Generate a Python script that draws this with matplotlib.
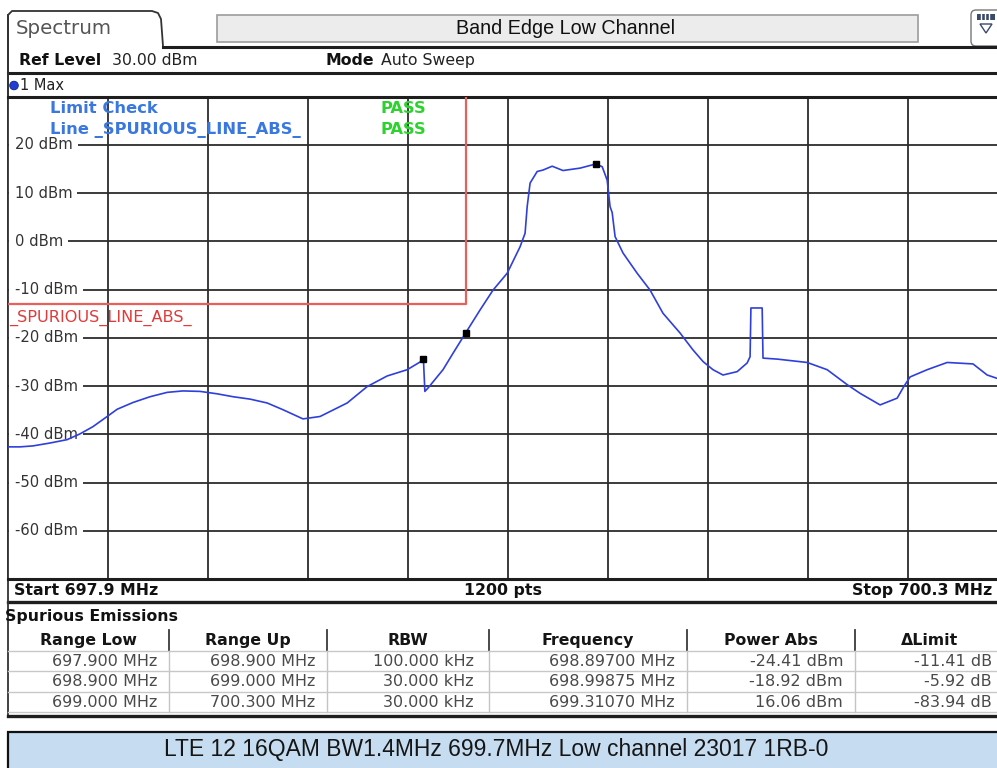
import matplotlib
matplotlib.use('Agg')
import matplotlib.pyplot as plt
from matplotlib.patches import Rectangle, FancyBboxPatch, Circle, Polygon
from matplotlib import font_manager
import matplotlib.transforms as mtransforms

# ---------------- data ----------------
start_mhz = 697.9
stop_mhz = 700.3
ref_level = 30.0
db_per_div = 10
n_div = 10

trace_mhz = [697.900, 697.929, 697.960, 698.001, 698.042, 698.073, 698.104, 698.138,
             698.162, 698.200, 698.241, 698.282, 698.320, 698.361, 698.402, 698.440,
             698.481, 698.522, 698.560, 698.608, 698.649, 698.714, 698.762, 698.810,
             698.858, 698.889, 698.897, 698.9005, 698.908, 698.944, 698.968, 698.99875,
             699.033, 699.064, 699.098, 699.129, 699.141, 699.146, 699.153, 699.170,
             699.184, 699.206, 699.232, 699.273, 699.3107, 699.326, 699.338, 699.345,
             699.350, 699.357, 699.376, 699.410, 699.441, 699.472, 699.513, 699.544,
             699.568, 699.592, 699.616, 699.650, 699.674, 699.681, 699.683, 699.710,
             699.712, 699.746, 699.818, 699.866, 699.914, 699.945, 699.993, 700.034,
             700.050, 700.065, 700.106, 700.154, 700.216, 700.250, 700.274, 700.300]
trace_dbm = [-42.6, -42.6, -42.4, -41.8, -41.1, -39.9, -38.4, -36.3,
             -34.8, -33.4, -32.2, -31.3, -31.0, -31.1, -31.6, -32.2,
             -32.7, -33.5, -34.9, -36.8, -36.3, -33.5, -30.1, -27.9,
             -26.6, -25.0, -24.41, -31.1, -30.4, -26.6, -23.2, -18.92,
             -14.2, -10.1, -6.6, -1.1, 1.7, 7.2, 12.1, 14.5,
             14.8, 15.6, 14.7, 15.2, 16.06, 15.5, 12.7, 7.2,
             6.0, 1.0, -2.4, -6.6, -10.1, -14.9, -19.0, -22.5,
             -24.9, -26.6, -27.7, -27.0, -25.2, -23.9, -13.8, -13.8,
             -24.2, -24.4, -25.1, -26.6, -29.7, -31.5, -33.9, -32.5,
             -30.1, -28.1, -26.6, -25.1, -25.4, -27.7, -28.4, -28.8]

limit_mhz = [697.9, 699.0, 699.0, 700.3]
limit_dbm = [-13.0, -13.0, 100.0, 100.0]

marker_mhz = [698.897, 698.99875, 699.3107]
marker_dbm = [-24.41, -18.92, 16.06]

y_labels = [20, 10, 0, -10, -20, -30, -40, -50, -60]

table_headers = ['Range Low', 'Range Up', 'RBW', 'Frequency', 'Power Abs', '\u0394Limit']
range_low = ['697.900 MHz', '698.900 MHz', '699.000 MHz']
range_up = ['698.900 MHz', '699.000 MHz', '700.300 MHz']
rbw = ['100.000 kHz', '30.000 kHz', '30.000 kHz']
peak_freq = ['698.89700 MHz', '698.99875 MHz', '699.31070 MHz']
power_abs = ['-24.41 dBm', '-18.92 dBm', '16.06 dBm']
delta_limit = ['-11.41 dB', '-5.92 dB', '-83.94 dB']

title = 'Band Edge Low Channel'
caption = 'LTE 12 16QAM BW1.4MHz 699.7MHz Low channel 23017 1RB-0'

# ---------------- figure ----------------
W, H = 997, 768
fig = plt.figure(figsize=(W / 100, H / 100), dpi=100)
fig.patch.set_facecolor('white')
FONT = 'DejaVu Sans'
FS = 11.3  # instrument UI font size

try:
    font_manager.findfont('Liberation Sans Narrow', fallback_to_default=False)
    cap_family, cap_size = 'Liberation Sans Narrow', 19.5
except Exception:
    cap_family, cap_size = 'Liberation Sans', 16.5

ov = fig.add_axes([0, 0, 1, 1], zorder=0)
ov.set_xlim(0, W)
ov.set_ylim(H, 0)
ov.axis('off')

DARK = '#1e1e1e'

# tab "Spectrum"
tab_x = [8, 8, 12, 152, 158, 161, 163]
tab_y = [96, 15, 11, 11, 13, 19, 46]
ov.plot(tab_x, tab_y, color='#333333', lw=1.3, solid_capstyle='butt')
ov.text(16, 28, 'Spectrum', fontsize=14.3, color='#555555', va='center', ha='left', family=FONT)
ov.plot([163, W], [46.5, 46.5], color=DARK, lw=2.2)

# title box
ov.add_patch(Rectangle((217, 15), 918 - 217, 27, facecolor='#ececec', edgecolor='#9c9c9c', lw=1.2))
ov.text(566, 28.5, title, fontsize=14.2, color='#111111', va='center', ha='center',
        family='Liberation Sans')

# icon at top right
ov.add_patch(FancyBboxPatch((971, 10), 40, 36, boxstyle='round,pad=0,rounding_size=5',
                            facecolor='white', edgecolor='#777777', lw=1.0))
ov.add_patch(Rectangle((977, 14), 18, 6, facecolor='#3a4a6a', edgecolor='none'))
for xx in (981, 985, 989):
    ov.plot([xx, xx], [14, 20], color='white', lw=1)
ov.add_patch(Polygon([[980, 24], [992, 24], [986, 33]], closed=True, facecolor='white',
                     edgecolor='#3a4a6a', lw=1.0))

# Ref level row
ov.text(19, 60.5, 'Ref Level', fontsize=FS, fontweight='bold', color='#111111', va='center', family=FONT)
ov.text(112, 60.5, '30.00 dBm', fontsize=FS, color='#222222', va='center', family=FONT)
ov.text(325, 60.5, 'Mode', fontsize=FS, fontweight='bold', color='#111111', va='center', family=FONT)
ov.text(381, 60.5, 'Auto Sweep', fontsize=FS, color='#222222', va='center', family=FONT)
ov.plot([8, W], [72.5, 72.5], color=DARK, lw=2.2)

# trace info row
ov.add_patch(Circle((14, 85.5), 4.3, facecolor='#1f3fd0', edgecolor='#0f2090', lw=0.6))
ov.text(20, 85.5, '1 Max', fontsize=10.5, color='#222222', va='center', family=FONT)

# start/stop bar
ov.text(14, 590.5, 'Start 697.9 MHz', fontsize=FS, fontweight='bold', color='#111111', va='center', family=FONT)
ov.text(503, 590.5, '1200 pts', fontsize=FS, fontweight='bold', color='#111111', va='center', ha='center', family=FONT)
ov.text(992, 590.5, 'Stop 700.3 MHz', fontsize=FS, fontweight='bold', color='#111111', va='center', ha='right', family=FONT)
ov.plot([8, W], [601.5, 601.5], color=DARK, lw=2.4)

# left frame line
ov.plot([8, 8], [15, 716], color='#333333', lw=1.3)

# spurious emissions table
ov.text(5, 616.5, 'Spurious Emissions', fontsize=FS, fontweight='bold', color='#111111', va='center', family=FONT)
col_edges = [8, 169, 327, 489, 687, 855, 1005]
hdr_y0, hdr_y1 = 630, 651
row_h = 20.3
for i, h in enumerate(table_headers):
    cx = (col_edges[i] + col_edges[i + 1]) / 2
    ov.text(cx, 640.5, h, fontsize=FS, fontweight='bold', color='#151515', va='center', ha='center', family=FONT)
for xe in col_edges[1:-1]:
    ov.plot([xe, xe], [hdr_y0, hdr_y1], color='#3a3a3a', lw=1.3)
    ov.plot([xe, xe], [hdr_y1, hdr_y1 + 3 * row_h], color='#c4c4c4', lw=1.0)
for r in range(4):
    yy = hdr_y1 + r * row_h
    ov.plot([8, W], [yy, yy], color='#c8c8c8', lw=1.0)
cols = [range_low, range_up, rbw, peak_freq, power_abs, delta_limit]
right_x = [157, 315, 474, 675, 843, 992]
for ci, col in enumerate(cols):
    for r, val in enumerate(col):
        ov.text(right_x[ci], hdr_y1 + (r + 0.5) * row_h + 0.5, val, fontsize=11.5, color='#4a4a4a',
                va='center', ha='right', family=FONT)
ov.plot([8, W], [715.5, 715.5], color=DARK, lw=2.4)

# caption box
ov.add_patch(Rectangle((8, 732), W, 40, facecolor='#c6dcf0', edgecolor='#111111', lw=1.6))
ov.text(496, 749.5, caption, fontsize=cap_size, color='#151515', va='center', ha='center',
        family=cap_family)

# ---------------- spectrum plot ----------------
x0, x1 = 8, 1008  # screenshot is cropped on the right
y_top, y_bot = 96.75, 579
ax = fig.add_axes([x0 / W, 1 - y_bot / H, (x1 - x0) / W, (y_bot - y_top) / H], zorder=2)
ax.set_facecolor('white')
ax.set_xlim(start_mhz, stop_mhz)
ax.set_ylim(ref_level - n_div * db_per_div, ref_level)
span = stop_mhz - start_mhz
ax.set_xticks([start_mhz + k * span / n_div for k in range(1, n_div)])
ax.set_yticks(y_labels)
ax.set_axisbelow(True)
ax.grid(True, color='#2c2c2c', lw=1.3)
ax.tick_params(length=0, labelbottom=False, labelleft=False)
ax.spines['left'].set_color('#333333')
ax.spines['left'].set_linewidth(1.3)
for s in ('top', 'bottom'):
    ax.spines[s].set_color(DARK)
    ax.spines[s].set_linewidth(2.2)
ax.spines['right'].set_visible(False)

blend = mtransforms.blended_transform_factory(ax.transAxes, ax.transData)
for v in y_labels:
    # white gap between the frame and the level label
    ax.add_patch(Rectangle((0.001, v - 0.8), 0.012, 1.6, transform=blend, facecolor='white',
                           edgecolor='none', zorder=1.5))
    ax.annotate(f'{v} dBm', xy=(0, v), xycoords=('axes fraction', 'data'), xytext=(7, 0),
                textcoords='offset pixels', va='center', ha='left', fontsize=10.6, color='#333333',
                family=FONT, zorder=2,
                bbox=dict(boxstyle='square,pad=0.33', facecolor='white', edgecolor='none'))

# legend texts
ax.annotate('Limit Check', xy=(0, 1), xycoords='axes fraction', xytext=(42, -11.5), textcoords='offset pixels',
            va='center', ha='left', fontsize=11.8, fontweight='bold', color='#3a78e0', family=FONT, zorder=6)
ax.annotate('Line _SPURIOUS_LINE_ABS_', xy=(0, 1), xycoords='axes fraction', xytext=(42, -33), textcoords='offset pixels',
            va='center', ha='left', fontsize=11.8, fontweight='bold', color='#3a78e0', family=FONT, zorder=6)
for dy in (-11.5, -33):
    ax.annotate('PASS', xy=(0, 1), xycoords='axes fraction', xytext=(373, dy), textcoords='offset pixels',
                va='center', ha='left', fontsize=11.8, fontweight='bold', color='#2ed22e', family=FONT, zorder=6)

# limit line
ax.plot(limit_mhz, limit_dbm, color='#e8605c', lw=1.6, zorder=3, clip_on=True)
ax.annotate('_SPURIOUS_LINE_ABS_', xy=(0, limit_dbm[0]), xycoords=('axes fraction', 'data'), xytext=(1, -14),
            textcoords='offset pixels', va='center', ha='left', fontsize=11.6, color='#e03a3a', family=FONT, zorder=3)

# trace
ax.plot(trace_mhz, trace_dbm, color='#2f3fdc', lw=1.2, zorder=5)
ax.plot(marker_mhz, marker_dbm, linestyle='none', marker='s', markersize=4.2, color='black', zorder=7)

fig.savefig('out.png', dpi=100, facecolor='white')
